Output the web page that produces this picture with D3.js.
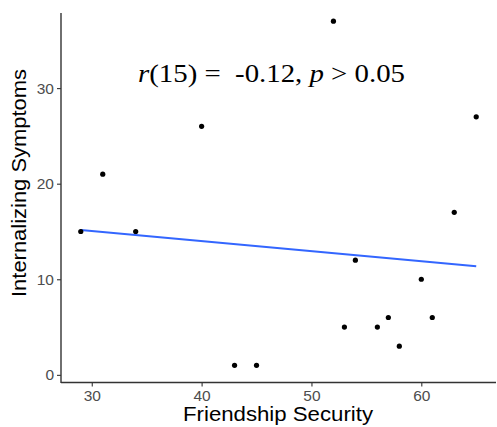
<!DOCTYPE html>
<html>
<head>
<meta charset="utf-8">
<script src="https://cdn.jsdelivr.net/npm/d3@7"></script>
<style>
  body { margin: 0; background: #fff; }
  svg text { white-space: pre; }
</style>
</head>
<body>
<script>
// data
var security = [29, 31, 34, 40, 43, 45, 52, 53, 54, 56, 57, 58, 60, 61, 63, 65];
var symptoms = [15, 21, 15, 26, 1, 1, 37, 5, 12, 5, 6, 3, 10, 6, 17, 27];
var xTicks = [30, 40, 50, 60];
var yTicks = [0, 10, 20, 30];

var svgWidth = 497;
var svgHeight = 427;

var svg = d3.select("body")
  .append("svg")
  .attr("width", svgWidth)
  .attr("height", svgHeight);

var data = security.map((x, i) => ({ x: x, y: symptoms[i] }));

// ggplot style 5% expansion
var xExt = d3.extent(security), yExt = d3.extent(symptoms);
var xPad = (xExt[1] - xExt[0]) * 0.05, yPad = (yExt[1] - yExt[0]) * 0.05;

var xScale = d3.scaleLinear()
  .domain([xExt[0] - xPad, xExt[1] + xPad])
  .range([61, 496]);

var yScale = d3.scaleLinear()
  .domain([yExt[0] - yPad, yExt[1] + yPad])
  .range([382.5, 4]);

// axes
var xAxis = svg.append("g")
  .attr("transform", "translate(0, 382.5)")
  .call(d3.axisBottom(xScale).tickValues(xTicks).tickSize(4).tickPadding(3));

var yAxis = svg.append("g")
  .attr("transform", "translate(61, 0)")
  .call(d3.axisLeft(yScale).tickValues(yTicks).tickSize(4).tickPadding(3));

[xAxis, yAxis].forEach(g => {
  g.select(".domain").remove();
  g.selectAll(".tick line").attr("stroke", "#333").attr("stroke-width", 1.1);
  g.selectAll(".tick text")
    .attr("fill", "#4d4d4d")
    .attr("font-family", "Liberation Sans, Arial, sans-serif")
    .attr("font-size", 15.5);
});

// axis lines (theme_classic)
svg.append("line")
  .attr("x1", 61).attr("x2", 61)
  .attr("y1", 13).attr("y2", 383)
  .attr("stroke", "#333").attr("stroke-width", 1.4);

svg.append("line")
  .attr("x1", 61).attr("x2", 496)
  .attr("y1", 382.5).attr("y2", 382.5)
  .attr("stroke", "#333").attr("stroke-width", 1.4);

// least squares fit line
var mx = d3.mean(security), my = d3.mean(symptoms);
var sxy = d3.sum(data, d => (d.x - mx) * (d.y - my));
var sxx = d3.sum(data, d => (d.x - mx) * (d.x - mx));
var slope = sxy / sxx, intercept = my - slope * mx;

svg.append("line")
  .attr("x1", xScale(xExt[0])).attr("y1", yScale(intercept + slope * xExt[0]))
  .attr("x2", xScale(xExt[1])).attr("y2", yScale(intercept + slope * xExt[1]))
  .attr("stroke", "#3366ff")
  .attr("stroke-width", 2);

// points
svg.selectAll("circle")
  .data(data)
  .enter()
  .append("circle")
  .attr("cx", d => xScale(d.x))
  .attr("cy", d => yScale(d.y))
  .attr("r", 2.6)
  .attr("fill", "#000");

// axis titles
svg.append("text")
  .attr("x", 278).attr("y", 421)
  .attr("text-anchor", "middle")
  .attr("font-family", "Liberation Sans, Arial, sans-serif")
  .attr("font-size", 20)
  .attr("textLength", 190)
  .attr("lengthAdjust", "spacingAndGlyphs")
  .text("Friendship Security");

svg.append("text")
  .attr("transform", "translate(26, 183) rotate(-90)")
  .attr("text-anchor", "middle")
  .attr("font-family", "Liberation Sans, Arial, sans-serif")
  .attr("font-size", 20)
  .attr("textLength", 228)
  .attr("lengthAdjust", "spacingAndGlyphs")
  .text("Internalizing Symptoms");

// annotation
var note = svg.append("text")
  .attr("x", 138).attr("y", 82)
  .attr("font-family", "Liberation Serif, Times New Roman, serif")
  .attr("font-size", 26)
  .attr("textLength", 267)
  .attr("lengthAdjust", "spacingAndGlyphs");
note.append("tspan").attr("font-style", "italic").text("r");
note.append("tspan").text("(15) =  -0.12, ");
note.append("tspan").attr("font-style", "italic").text("p");
note.append("tspan").text(" > 0.05");
</script>
</body>
</html>
